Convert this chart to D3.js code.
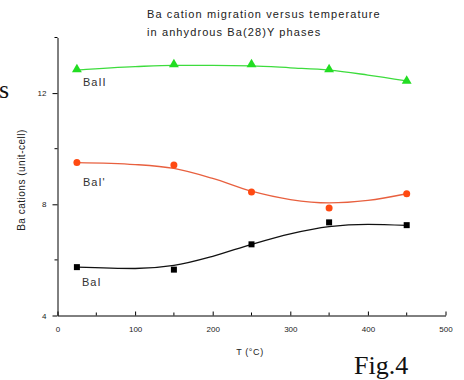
<!DOCTYPE html>
<html>
<head>
<meta charset="utf-8">
<script src="https://cdn.jsdelivr.net/npm/d3@7"></script>
<style>
  body { margin: 0; background: #fff; }
  text { font-family: "Liberation Sans", Arial, sans-serif; fill: #222; }
</style>
</head>
<body>
<div id="graphic"></div>
<script>
// measured temperatures (°C)
const temps = [25, 150, 250, 350, 450];
// cations per unit cell
const baII = [12.85, 13.03, 13.03, 12.85, 12.44];
const baIp = [9.5, 9.41, 8.44, 7.87, 8.38];
const baI = [5.74, 5.65, 6.56, 7.35, 7.25];

// fitted curves
const fitT = [25, 100, 150, 200, 250, 300, 350, 400, 450];
const fitBaII = [12.83, 12.95, 13.0, 13.0, 12.98, 12.91, 12.83, 12.65, 12.44];
const fitBaIp = [9.5, 9.43, 9.29, 8.93, 8.47, 8.17, 8.05, 8.14, 8.38];
const fitBaI = [5.74, 5.69, 5.8, 6.13, 6.56, 6.94, 7.2, 7.28, 7.24];

const xTicks = [0, 100, 200, 300, 400, 500];
const xMinor = [50, 150, 250, 350, 450];
const yTicks = [4, 8, 12];
const yMinor = [6, 10, 14];

const width = 464, height = 380;

const svg = d3.select("#graphic").append("svg")
  .attr("width", width)
  .attr("height", height);

const x = d3.scaleLinear().domain([0, 500]).range([57.5, 445.5]);
const y = d3.scaleLinear().domain([4, 14]).range([315.5, 37.5]);

// title
svg.append("text")
  .attr("x", 147).attr("y", 18)
  .style("font-size", "11px").style("letter-spacing", "1.1px")
  .text("Ba cation migration versus temperature");
svg.append("text")
  .attr("x", 147).attr("y", 36)
  .style("font-size", "11px").style("letter-spacing", "1.1px")
  .text("in anhydrous Ba(28)Y phases");

// axes
const gx = svg.append("g")
  .attr("transform", `translate(0,${y(4)})`)
  .call(d3.axisBottom(x).tickValues(xTicks).tickSize(-4).tickPadding(11).tickSizeOuter(0));
gx.append("g").selectAll("line").data(xMinor).enter().append("line")
  .attr("x1", d => x(d)).attr("x2", d => x(d))
  .attr("y1", 0).attr("y2", -3)
  .attr("stroke", "#000");

const gy = svg.append("g")
  .attr("transform", `translate(${x(0)},0)`)
  .call(d3.axisLeft(y).tickValues(yTicks).tickSize(5).tickPadding(6).tickSizeOuter(0));
gy.append("g").selectAll("line").data(yMinor).enter().append("line")
  .attr("y1", d => y(d)).attr("y2", d => y(d))
  .attr("x1", 0).attr("x2", -3)
  .attr("stroke", "#000");

svg.selectAll(".domain").attr("stroke", "#000");
svg.selectAll(".tick line").attr("stroke", "#000");
svg.selectAll(".tick text").style("font-size", "8px").style("fill", "#222");

// axis labels
svg.append("text")
  .attr("x", 250).attr("y", 355)
  .attr("text-anchor", "middle")
  .style("font-size", "9px").style("letter-spacing", "0.6px")
  .text("T (°C)");
svg.append("text")
  .attr("transform", "translate(25,180) rotate(-90)")
  .attr("text-anchor", "middle")
  .style("font-size", "10px").style("letter-spacing", "0.5px")
  .text("Ba cations (unit-cell)");

// fitted lines
const line = d3.line()
  .x(d => x(d[0]))
  .y(d => y(d[1]))
  .curve(d3.curveMonotoneX);

const series = [
  { name: "BaII", pts: baII, fit: fitBaII, line: "#3ddc3d", mark: "#22dd22", lx: 83, ly: 86 },
  { name: "BaI'", pts: baIp, fit: fitBaIp, line: "#e8603f", mark: "#ff4a12", lx: 83, ly: 186 },
  { name: "BaI", pts: baI, fit: fitBaI, line: "#111", mark: "#000", lx: 82, ly: 286 }
];

series.forEach(s => {
  svg.append("path")
    .datum(fitT.map((t, i) => [t, s.fit[i]]))
    .attr("d", line)
    .attr("fill", "none")
    .attr("stroke", s.line)
    .attr("stroke-width", 1.3);

  svg.append("text")
    .attr("x", s.lx).attr("y", s.ly)
    .style("font-size", "11px").style("letter-spacing", "1px")
    .style("fill", "#333")
    .text(s.name);
});

// markers
svg.append("g").selectAll("path")
  .data(temps.map((t, i) => [t, baII[i]]))
  .enter().append("path")
  .attr("transform", d => `translate(${x(d[0])},${y(d[1])})`)
  .attr("d", d3.symbol(d3.symbolTriangle, 42))
  .attr("fill", series[0].mark);

svg.append("g").selectAll("circle")
  .data(temps.map((t, i) => [t, baIp[i]]))
  .enter().append("circle")
  .attr("cx", d => x(d[0])).attr("cy", d => y(d[1]))
  .attr("r", 3.5)
  .attr("fill", series[1].mark);

svg.append("g").selectAll("rect")
  .data(temps.map((t, i) => [t, baI[i]]))
  .enter().append("rect")
  .attr("x", d => x(d[0]) - 3).attr("y", d => y(d[1]) - 3)
  .attr("width", 6).attr("height", 6)
  .attr("fill", series[2].mark);

// page fragments around the figure
svg.append("text")
  .attr("x", -1).attr("y", 98)
  .style("font-family", "'Liberation Serif', 'Times New Roman', serif")
  .style("font-size", "26px").style("fill", "#111")
  .text("s");
svg.append("text")
  .attr("x", 354).attr("y", 374)
  .style("font-family", "'Liberation Serif', 'Times New Roman', serif")
  .style("font-size", "26px").style("fill", "#111")
  .text("Fig.4");
</script>
</body>
</html>
